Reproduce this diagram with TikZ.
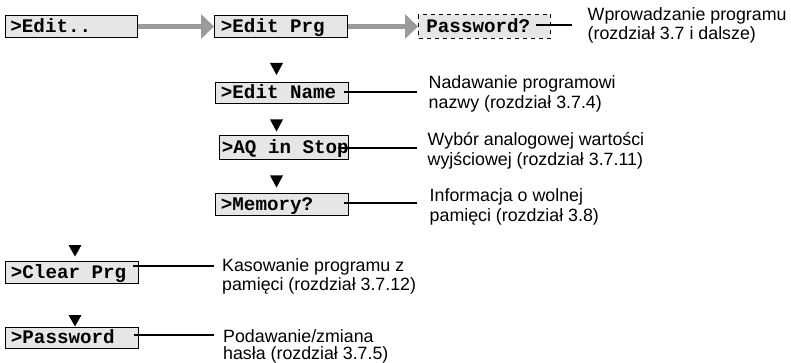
\documentclass[tikz,border=0pt]{standalone}
\usepackage{fontspec}
\setmainfont{Liberation Sans}
\newfontfamily\boxfont{Liberation Mono}
\usetikzlibrary{arrows.meta,calc}
\definecolor{boxfill}{RGB}{230,230,230}
\definecolor{arrowgray}{RGB}{155,155,155}
\newcommand\msp{\hspace*{0.6em}}
\begin{document}
\begin{tikzpicture}[x=1pt,y=-1pt,
  menubox/.style={draw=black, line width=0.9pt, fill=boxfill, anchor=west,
    inner xsep=5.5pt, inner ysep=0pt, text width=122pt, minimum height=22.5pt,
    align=left, text height=12.5pt, text depth=0pt,
    font=\boxfont\bfseries\fontsize{19.2}{20}\selectfont},
  flow/.style={draw=arrowgray, line width=5pt, -{Triangle[length=13pt,width=24pt]}},
  conn/.style={draw=black, line width=1.4pt},
  lbl/.style={anchor=base west, inner sep=0pt, align=left,
    font=\fontsize{17.8}{19.5}\selectfont},
  tri/.style={fill=black}
]
\useasboundingbox (0,0) rectangle (791,363);

% menu boxes
\node[menubox, inner xsep=5pt, text width=122pt] (b1) at (5,26.5) {>Edit..};
\node[menubox, inner xsep=6.5pt, text width=120pt] (b2) at (214,26.5) {>Edit\msp Prg};
\node[menubox, draw=none, inner xsep=8pt, text width=116pt] (b3) at (418,26.5) {Password?};
\draw[black, line width=0.9pt, dash pattern=on 4pt off 4pt] (b3.north west) rectangle (b3.south east);
\node[menubox, minimum height=21pt] (b4) at (215,92.5) {>Edit\msp Name};
\node[menubox, inner xsep=2.5pt, text width=124pt, minimum height=24pt] (b5) at (219,147) {>AQ\msp in\msp Stop};
\node[menubox, minimum height=22pt] (b6) at (215,204) {>Memory?};
\node[menubox, minimum height=22pt] (b7) at (5,272) {>Clear\msp Prg};
\node[menubox, minimum height=21pt] (b8) at (5,337.5) {>Password};

% gray flow arrows
\draw[flow] (b1.east) -- (b2.west);
\draw[flow] (b2.east) -- (b3.west);

% down triangles
\fill[tri] (270,63) -- (283,63) -- (276.5,75) -- cycle;
\fill[tri] (270,119.5) -- (283,119.5) -- (276.5,131.5) -- cycle;
\fill[tri] (270,175.5) -- (283,175.5) -- (276.5,187.5) -- cycle;
\fill[tri] (68.5,245) -- (81.5,245) -- (75,256.5) -- cycle;
\fill[tri] (68.5,315) -- (81.5,315) -- (75,326.5) -- cycle;

% labels (anchor = baseline of the last line)
\node[lbl] (l3) at (587.5,40) {Wprowadzanie programu\\(rozdział 3.7 i dalsze)};
\node[lbl] (l4) at (428.5,108.5) {Nadawanie programowi\\nazwy (rozdział 3.7.4)};
\node[lbl] (l5) at (427.5,165.5) {Wybór analogowej wartości\\wyjściowej (rozdział 3.7.11)};
\node[lbl] (l6) at (429.5,221.5) {Informacja o wolnej\\pamięci (rozdział 3.8)};
\node[lbl] (l7) at (222,290.5) {Kasowanie programu z\\pamięci (rozdział 3.7.12)};
\node[lbl, font=\fontsize{17.8}{17.5}\selectfont] (l8) at (223,359.5) {Podawanie/zmiana\\hasła (rozdział 3.7.5)};

% connector end points
\coordinate (c3) at (572,25);
\coordinate (c4) at (417,92);
\coordinate (c5) at (417,148);
\coordinate (c6) at (417,203);
\coordinate (c7) at (214,266);
\coordinate (c8) at (214,335);

\draw[conn] ($(b3.east |- c3)+(-15,0)$) -- (c3);
\draw[conn] ($(b4.east |- c4)+(-5,0)$) -- (c4);
\draw[conn] ($(b5.east |- c5)+(-11,0)$) -- (c5);
\draw[conn] ($(b6.east |- c6)+(-5,0)$) -- (c6);
\draw[conn] ($(b7.east |- c7)+(-6,0)$) -- (c7);
\draw[conn] ($(b8.east |- c8)+(-5,0)$) -- (c8);
\end{tikzpicture}
\end{document}
